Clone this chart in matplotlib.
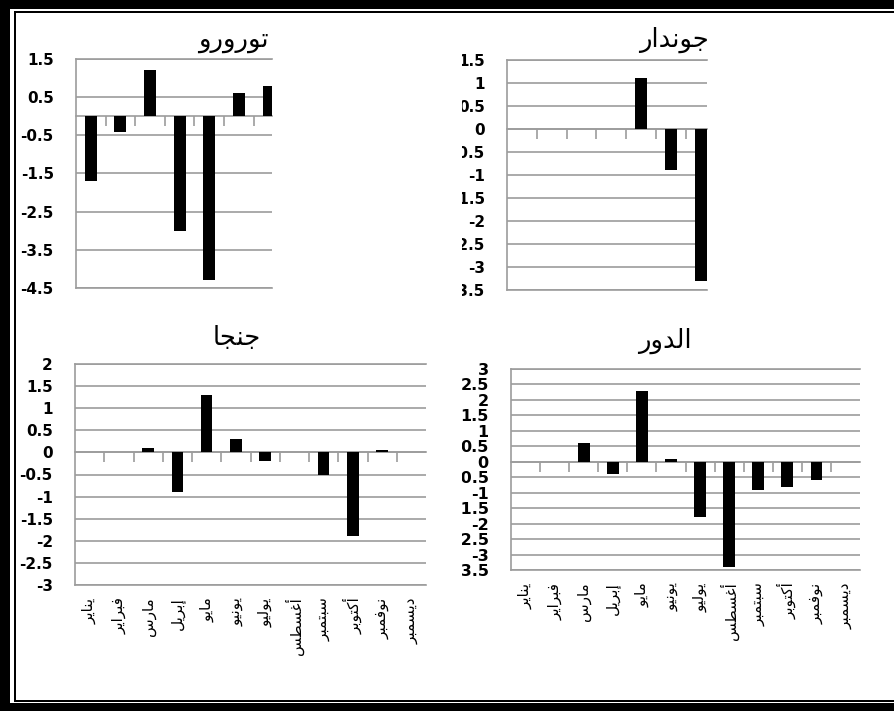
import numpy as np
import matplotlib
matplotlib.use('Agg')
import matplotlib.pyplot as plt
from matplotlib.patches import Rectangle

# monthly anomalies per station
months = ['يناير', 'فبراير', 'مارس', 'إبريل', 'مايو', 'يونيو',
          'يوليو', 'أغسطس', 'سبتمبر', 'أكتوبر', 'نوفمبر', 'ديسمبر']

tororo = [-1.7, -0.4, 1.2, -3.0, -4.3, 0.6, 0.8]
gondar = [None, None, None, None, 1.1, -0.9, -3.3]
jinja = [None, None, 0.1, -0.9, 1.3, 0.3, -0.2, None, -0.5, -1.9, 0.05, None]
eldoret = [None, None, 0.6, -0.4, 2.3, 0.1, -1.8, -3.4, -0.9, -0.8, -0.6, None]

tororo_ticks = [1.5, 0.5, -0.5, -1.5, -2.5, -3.5, -4.5]
gondar_ticks = [1.5, 1, 0.5, 0, -0.5, -1, -1.5, -2, -2.5, -3, -3.5]
jinja_ticks = [2, 1.5, 1, 0.5, 0, -0.5, -1, -1.5, -2, -2.5, -3]
eldoret_ticks = [3, 2.5, 2, 1.5, 1, 0.5, 0, -0.5, -1, -1.5, -2, -2.5, -3, -3.5]

# matplotlib does no arabic shaping, so pick the joined glyph forms by hand
# (isolated, final, initial, medial); letters that never join forward have no initial/medial
FORMS = {
    'ا': ('\uFE8D', '\uFE8E', None, None),
    'أ': ('\uFE83', '\uFE84', None, None),
    'إ': ('\uFE87', '\uFE88', None, None),
    'ب': ('\uFE8F', '\uFE90', '\uFE91', '\uFE92'),
    'ت': ('\uFE95', '\uFE96', '\uFE97', '\uFE98'),
    'ج': ('\uFE9D', '\uFE9E', '\uFE9F', '\uFEA0'),
    'د': ('\uFEA9', '\uFEAA', None, None),
    'ر': ('\uFEAD', '\uFEAE', None, None),
    'س': ('\uFEB1', '\uFEB2', '\uFEB3', '\uFEB4'),
    'ط': ('\uFEC1', '\uFEC2', '\uFEC3', '\uFEC4'),
    'غ': ('\uFECD', '\uFECE', '\uFECF', '\uFED0'),
    'ف': ('\uFED1', '\uFED2', '\uFED3', '\uFED4'),
    'ك': ('\uFED9', '\uFEDA', '\uFEDB', '\uFEDC'),
    'ل': ('\uFEDD', '\uFEDE', '\uFEDF', '\uFEE0'),
    'م': ('\uFEE1', '\uFEE2', '\uFEE3', '\uFEE4'),
    'ن': ('\uFEE5', '\uFEE6', '\uFEE7', '\uFEE8'),
    'و': ('\uFEED', '\uFEEE', None, None),
    'ي': ('\uFEF1', '\uFEF2', '\uFEF3', '\uFEF4'),
}


def shape(word):
    out = []
    for i, ch in enumerate(word):
        prev = word[i - 1] if i > 0 else None
        nxt = word[i + 1] if i + 1 < len(word) else None
        joined_before = prev is not None and FORMS[prev][2] is not None
        joined_after = nxt is not None and FORMS[ch][2] is not None
        iso, fin, ini, med = FORMS[ch]
        if joined_before and joined_after:
            out.append(med)
        elif joined_before:
            out.append(fin)
        elif joined_after:
            out.append(ini)
        else:
            out.append(iso)
    return ''.join(reversed(out))


W, H = 894, 711
GRID = '#9c9c9c'

fig = plt.figure(figsize=(W / 100, H / 100), dpi=100)
fig.patch.set_facecolor('white')


def px_box(x0, y0, x1, y1):
    return [x0 / W, 1 - y1 / H, (x1 - x0) / W, (y1 - y0) / H]


def px_rect(x0, y0, x1, y1, color='black'):
    fig.add_artist(Rectangle((x0 / W, 1 - y1 / H), (x1 - x0) / W, (y1 - y0) / H,
                             transform=fig.transFigure, color=color, lw=0, zorder=5))


def draw_panel(box, values, yticks, title, title_xy, xmax, with_months, ysize=11):
    ax = fig.add_axes(px_box(*box))
    x = np.arange(len(values))
    ax.bar(x, np.array(values, dtype=float), width=0.4, color='black', zorder=3)
    ax.set_xlim(-0.5, xmax)
    ax.set_ylim(min(yticks), max(yticks))
    ax.set_yticks(yticks)
    ax.set_yticklabels([f'{v:g}' for v in yticks], fontsize=ysize,
                       fontweight='bold', family='DejaVu Sans')
    ax.yaxis.grid(True, color=GRID, lw=1.2)
    ax.set_axisbelow(True)
    for side in ['left', 'top', 'bottom']:
        ax.spines[side].set_color(GRID)
        ax.spines[side].set_linewidth(1.2)
    ax.spines['right'].set_visible(False)
    ax.tick_params(axis='y', length=0, pad=16)
    ax.tick_params(axis='x', length=0, pad=9)
    if with_months:
        ax.set_xticks(range(12))
        ax.set_xticklabels([shape(m) for m in months], rotation=90,
                           va='top', ha='center', fontsize=11)
    else:
        ax.set_xticks([])

    # category separators hang below the zero line
    sec = ax.secondary_xaxis(0, transform=ax.transData)
    sec.set_xticks(np.arange(0.5, 11, 1))
    sec.tick_params(length=7, width=1.2, color=GRID, labelbottom=False)
    sec.spines['bottom'].set_color(GRID)
    sec.spines['bottom'].set_linewidth(1.2)

    fig.text(title_xy[0] / W, 1 - title_xy[1] / H, shape(title),
             ha='center', va='center', fontsize=18.5)
    return ax


draw_panel((76, 59, 272, 288), tororo, tororo_ticks, 'تورورو', (233, 40), 6.12, False)
draw_panel((507, 60, 707, 290), gondar, gondar_ticks, 'جوندار', (674, 40), 6.21, False)
draw_panel((75, 364, 426, 585), jinja, jinja_ticks, 'جنجا', (237, 338), 11.5, True)
draw_panel((511, 369, 860, 570), eldoret, eldoret_ticks, 'الدور', (665, 341), 11.5, True,
           ysize=11.5)

# right-hand charts are cut off on their left edge
px_rect(436, 20, 462, 620, color='white')

# double frame
px_rect(0, 0, W, 9)
px_rect(14, 11, W, 13)
px_rect(0, 0, 10, H)
px_rect(14, 11, 16, 702)
px_rect(14, 700, W, 702)
px_rect(0, 703, W, H)

fig.savefig('out.png', dpi=100)
